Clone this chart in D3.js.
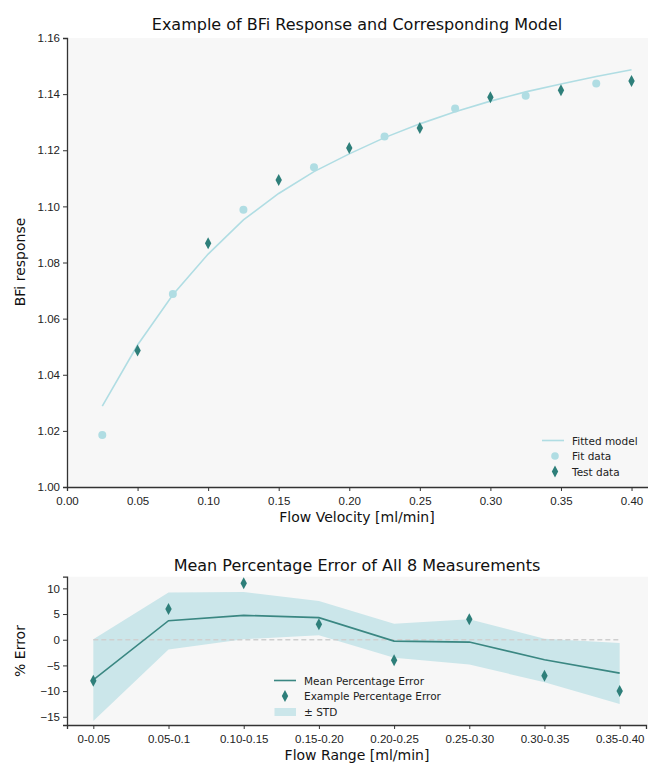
<!DOCTYPE html>
<html>
<head>
<meta charset="utf-8">
<script src="https://cdn.jsdelivr.net/npm/d3@7"></script>
<style>
  body { margin: 0; background: #fff; }
  svg { font-family: "DejaVu Sans", sans-serif; display: block; }
</style>
</head>
<body>
<svg id="chart" width="648" height="763"></svg>
<script>
// top panel data
var fitX = [0.025, 0.075, 0.125, 0.175, 0.225, 0.275, 0.325, 0.375];
var fitY = [1.0185, 1.0688, 1.0988, 1.1139, 1.1249, 1.1349, 1.1394, 1.1438];
var testX = [0.05, 0.10, 0.15, 0.20, 0.25, 0.30, 0.35, 0.40];
var testY = [1.0486, 1.0869, 1.1094, 1.1208, 1.1279, 1.1389, 1.1414, 1.1447];
var modelX = [0.025, 0.05, 0.075, 0.10, 0.125, 0.15, 0.175, 0.20, 0.225, 0.25, 0.275, 0.30, 0.325, 0.35, 0.375, 0.40];
var modelY = [1.0288, 1.0506, 1.0685, 1.0830, 1.0952, 1.1046, 1.1124, 1.1187, 1.1245, 1.1294, 1.1337, 1.1375, 1.1408, 1.1436, 1.1463, 1.1487];
var topXTicks = [0, 0.05, 0.10, 0.15, 0.20, 0.25, 0.30, 0.35, 0.40];
var topYTicks = [1.00, 1.02, 1.04, 1.06, 1.08, 1.10, 1.12, 1.14, 1.16];

// bottom panel data
var ranges = ["0-0.05", "0.05-0.1", "0.10-0.15", "0.15-0.20", "0.20-0.25", "0.25-0.30", "0.30-0.35", "0.35-0.40"];
var meanErr = [-7.8, 3.7, 4.75, 4.3, -0.27, -0.46, -3.9, -6.5];
var stdUpper = [0.1, 9.2, 9.3, 7.55, 3.1, 4.0, 0.2, -0.65];
var stdLower = [-15.8, -1.9, 0.1, 0.85, -3.5, -4.8, -8.3, -12.5];
var exampleErr = [-8, 6, 11, 3, -4, 4, -7, -10];
var botYTicks = [-15, -10, -5, 0, 5, 10];

var light = "#b0dde3";
var dark = "#2e7f7a";
var bandFill = "#cbe6ea";
var bg = "#f7f7f7";
var spine = "#333";

var svg = d3.select("#chart");

function diamond(g, cx, cy, color) {
   g.append("path")
      .attr("d", "M" + cx + "," + (cy - 6) + "L" + (cx + 3.2) + "," + cy + "L" + cx + "," + (cy + 6) + "L" + (cx - 3.2) + "," + cy + "Z")
      .attr("fill", color);
}

function styleAxis(g) {
   g.selectAll(".domain").attr("stroke", spine).attr("stroke-width", 1.3);
   g.selectAll(".tick line").attr("stroke", spine).attr("stroke-width", 1);
   g.selectAll(".tick text").attr("fill", "#222").style("font-size", "11.5px");
}

// ---------- top panel ----------
var x1 = d3.scaleLinear().domain([0, 0.41875]).range([67, 658]);
var y1 = d3.scaleLinear().domain([1.00, 1.16]).range([487, 38]);

var topG = svg.append("g");
topG.append("rect")
   .attr("x", 67).attr("y", 38)
   .attr("width", 648 - 67).attr("height", 487 - 38)
   .attr("fill", bg);

var model = modelX.map((d, i) => [d, modelY[i]]);
topG.append("path")
   .datum(model)
   .attr("fill", "none")
   .attr("stroke", light)
   .attr("stroke-width", 1.6)
   .attr("d", d3.line().x(d => x1(d[0])).y(d => y1(d[1])));

fitX.forEach(function (d, i) {
   topG.append("circle")
      .attr("cx", x1(d)).attr("cy", y1(fitY[i]))
      .attr("r", 4).attr("fill", light);
});
testX.forEach(function (d, i) {
   diamond(topG, x1(d), y1(testY[i]), dark);
});

var ax1 = topG.append("g")
   .attr("transform", "translate(0,487)")
   .call(d3.axisBottom(x1).tickValues(topXTicks).tickFormat(d3.format(".2f")).tickSizeOuter(0).tickSize(4));
styleAxis(ax1);
ax1.selectAll(".tick text").attr("dy", "0.95em");
var ay1 = topG.append("g")
   .attr("transform", "translate(67,0)")
   .call(d3.axisLeft(y1).tickValues(topYTicks).tickFormat(d3.format(".2f")).tickSizeOuter(0).tickSize(4));
styleAxis(ay1);

topG.append("text")
   .attr("x", 357).attr("y", 30)
   .attr("text-anchor", "middle")
   .style("font-size", "16px").attr("fill", "#111")
   .text("Example of BFi Response and Corresponding Model");
topG.append("text")
   .attr("x", 357).attr("y", 522)
   .attr("text-anchor", "middle")
   .style("font-size", "14px").attr("fill", "#111")
   .text("Flow Velocity [ml/min]");
topG.append("text")
   .attr("transform", "translate(25,262) rotate(-90)")
   .attr("text-anchor", "middle")
   .style("font-size", "14px").attr("fill", "#111")
   .text("BFi response");

// legend top
var lg1 = topG.append("g").style("font-size", "10.5px").attr("fill", "#222");
lg1.append("line").attr("x1", 542).attr("x2", 564).attr("y1", 440.5).attr("y2", 440.5)
   .attr("stroke", light).attr("stroke-width", 1.6);
lg1.append("circle").attr("cx", 555).attr("cy", 456).attr("r", 3.8).attr("fill", light);
diamond(lg1, 555, 471.5, dark);
lg1.append("text").attr("x", 572).attr("y", 444.5).text("Fitted model");
lg1.append("text").attr("x", 572).attr("y", 459.5).text("Fit data");
lg1.append("text").attr("x", 572).attr("y", 475.5).text("Test data");

// ---------- bottom panel ----------
var idx = d3.range(ranges.length);
var x2 = d3.scaleLinear().domain([-0.35, 7.35]).range([67, 646]);
var y2 = d3.scaleLinear().domain([-16.6, 12.27]).range([725, 576.7]);

var botG = svg.append("g");
botG.append("rect")
   .attr("x", 67).attr("y", 576.7)
   .attr("width", 648 - 67).attr("height", 725 - 576.7)
   .attr("fill", bg);

botG.append("path")
   .datum(idx)
   .attr("fill", bandFill)
   .attr("d", d3.area().x(i => x2(i)).y0(i => y2(stdLower[i])).y1(i => y2(stdUpper[i])));

botG.append("line")
   .attr("x1", x2(0)).attr("x2", x2(7))
   .attr("y1", y2(0)).attr("y2", y2(0))
   .attr("stroke", "#cfcfcf").attr("stroke-width", 1.3)
   .attr("stroke-dasharray", "5,3");

botG.append("path")
   .datum(idx)
   .attr("fill", "none")
   .attr("stroke", "#3a8782")
   .attr("stroke-width", 1.6)
   .attr("d", d3.line().x(i => x2(i)).y(i => y2(meanErr[i])));

idx.forEach(function (i) {
   diamond(botG, x2(i), y2(exampleErr[i]), dark);
});

var ax2 = botG.append("g")
   .attr("transform", "translate(0,725)")
   .call(d3.axisBottom(x2).tickValues(idx).tickFormat(i => ranges[i]).tickSizeOuter(0).tickSize(4));
styleAxis(ax2);
ax2.selectAll(".tick text").attr("dy", "0.95em");
var ay2 = botG.append("g")
   .attr("transform", "translate(67,0)")
   .call(d3.axisLeft(y2).tickValues(botYTicks).tickFormat(d => d < 0 ? "\u2212" + Math.abs(d) : d).tickSizeOuter(0).tickSize(4));
styleAxis(ay2);

botG.append("text")
   .attr("x", 357).attr("y", 571)
   .attr("text-anchor", "middle")
   .style("font-size", "16px").attr("fill", "#111")
   .text("Mean Percentage Error of All 8 Measurements");
botG.append("text")
   .attr("x", 357).attr("y", 760)
   .attr("text-anchor", "middle")
   .style("font-size", "14px").attr("fill", "#111")
   .text("Flow Range [ml/min]");
botG.append("text")
   .attr("transform", "translate(25,651) rotate(-90)")
   .attr("text-anchor", "middle")
   .style("font-size", "14px").attr("fill", "#111")
   .text("% Error");

// legend bottom
var lg2 = botG.append("g").style("font-size", "10.5px").attr("fill", "#222");
lg2.append("line").attr("x1", 274).attr("x2", 296).attr("y1", 680.5).attr("y2", 680.5)
   .attr("stroke", "#3a8782").attr("stroke-width", 1.6);
diamond(lg2, 285, 696, dark);
lg2.append("rect").attr("x", 274.5).attr("y", 708).attr("width", 21.5).attr("height", 8).attr("fill", bandFill);
lg2.append("text").attr("x", 304).attr("y", 684.5).text("Mean Percentage Error");
lg2.append("text").attr("x", 304).attr("y", 700).text("Example Percentage Error");
lg2.append("text").attr("x", 304).attr("y", 716).text("\u00b1 STD");
</script>
</body>
</html>
